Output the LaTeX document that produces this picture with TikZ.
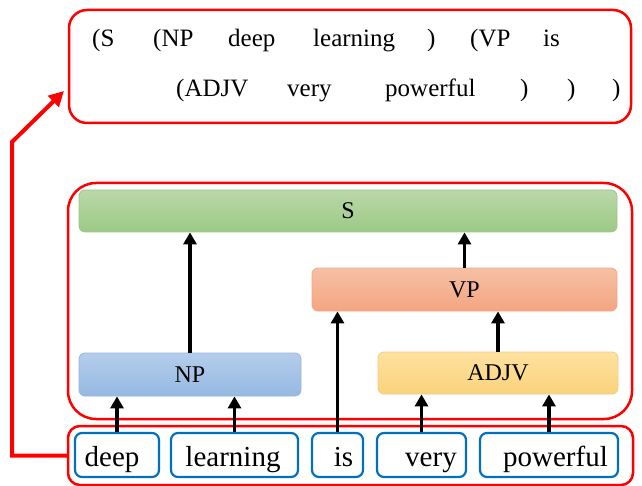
\documentclass[tikz,border=0pt]{standalone}
\usepackage{fontspec}
\setmainfont{Liberation Serif}
\newfontfamily\treefont{Liberation Serif}
\usetikzlibrary{positioning, arrows.meta, calc}
\usepackage{xcolor}

\definecolor{framered}{RGB}{255,0,0}
\definecolor{wordblue}{RGB}{0,112,192}
\definecolor{Stop}{RGB}{186,216,170}
\definecolor{Sbot}{RGB}{156,201,132}
\definecolor{Sline}{RGB}{160,196,140}
\definecolor{VPtop}{RGB}{246,192,164}
\definecolor{VPbot}{RGB}{244,165,130}
\definecolor{VPline}{RGB}{236,170,140}
\definecolor{NPtop}{RGB}{180,205,235}
\definecolor{NPbot}{RGB}{150,185,226}
\definecolor{NPline}{RGB}{150,182,222}
\definecolor{ADJVtop}{RGB}{254,226,160}
\definecolor{ADJVbot}{RGB}{250,210,124}
\definecolor{ADJVline}{RGB}{240,205,130}

\begin{document}
\begin{tikzpicture}[x=1pt, y=-1pt, every node/.style={font=\treefont},
    frame/.style={draw=framered, line width=2.5pt, rounded corners=#1, inner sep=0pt},
    frame/.default=15pt,
    phrase/.style={draw=#1line, line width=0.8pt, top color=#1top, bottom color=#1bot,
                   rounded corners=6pt, inner sep=0pt, font=\treefont\fontsize{24}{28}\selectfont},
    wordbox/.style={draw=wordblue, line width=2.2pt, fill=white, rounded corners=7pt,
                    minimum height=44pt, inner sep=0pt},
    wordtext/.style={anchor=base, inner sep=0pt, font=\treefont\fontsize{29}{34}\selectfont},
    token/.style={anchor=base west, inner sep=0pt, font=\treefont\fontsize{25}{30}\selectfont},
    arr/.style={-{Triangle[length=12pt, width=13pt]}, line width=3.5pt},
    redarr/.style={-{Triangle[length=15pt, width=15pt]}, draw=framered, line width=4pt},
]
\useasboundingbox (0,0) rectangle (642,486);

% Red frames
\node[frame=18pt, minimum width=562pt, minimum height=113pt] (parse) at (350,66.5) {};
\node[frame=28pt, minimum width=564pt, minimum height=236pt] (tree) at (350,301) {};
\node[frame=12pt, minimum width=565pt, minimum height=59pt] (words) at (350.5,455.5) {};

% Bracketed parse, first line
\foreach \x/\t [count=\k] in {92/(S, 153/(NP, 228/deep, 313/learning, 427/), 470/(VP, 543/is} {
    \node[token] (a\k) at (\x,47) {\t};
}
% Bracketed parse, second line
\foreach \x/\t [count=\k] in {176/(ADJV, 287/very, 385/powerful, 520/), 567/), 612/)} {
    \node[token] (b\k) at (\x,97) {\t};
}

% Phrase boxes
\node[phrase=S, minimum width=538pt, minimum height=42pt] (S) at (348,211) {S};
\node[phrase=VP, minimum width=305pt, minimum height=43pt] (VP) at (464.5,289.5) {VP};
\node[phrase=NP, minimum width=222pt, minimum height=43pt] (NP) at (190,374.5) {NP};
\node[phrase=ADJV, minimum width=240pt, minimum height=42pt] (ADJV) at (498,373) {ADJV};

% Word boxes
\foreach \n/\x/\w/\tx in {deep/117/84/112, learning/234.5/127/233, is/337.5/51/343.5,
                          very/421.5/89/431, powerful/549/138/555.5} {
    \node[wordbox, minimum width=\w pt] (w\n) at (\x,455) {};
    \node[wordtext] (t\n) at (\tx,466) {\n};
}

% Arrows from words to phrases
\draw[arr] (wdeep.north) -- (wdeep.north |- NP.south);
\draw[arr] (wlearning.north) -- (wlearning.north |- NP.south);
\draw[arr] (wis.north) -- (wis.north |- VP.south);
\draw[arr] (wvery.north) -- (wvery.north |- ADJV.south);
\draw[arr] (wpowerful.north) -- (wpowerful.north |- ADJV.south);

% Arrows between phrases
\draw[arr] (NP.north) -- (NP.north |- S.south);
\draw[arr] (ADJV.north) -- (ADJV.north |- VP.south);
\draw[arr] (VP.north) -- (VP.north |- S.south);

% Red connector from words to parse
\coordinate (bend) at (12,142);
\coordinate (tip) at (64,91);
\draw[redarr] (words.west) -| (bend) -- (tip);

\end{tikzpicture}
\end{document}
